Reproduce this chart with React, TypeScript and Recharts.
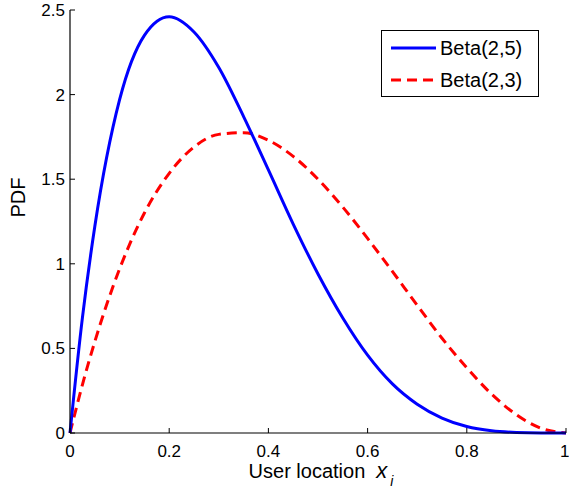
import { Line, LineChart, XAxis, YAxis } from 'recharts'

// x positions along the user location axis
const xs = [
  0, 0.025, 0.05, 0.1, 0.15, 0.2, 0.25, 0.3, 0.35, 0.4, 0.45, 0.5, 0.55, 0.6,
  0.65, 0.7, 0.75, 0.8, 0.85, 0.9, 0.95, 1,
]

// PDF values
const beta25 = [
  0, 0.68, 1.22, 1.97, 2.35, 2.46, 2.37, 2.16, 1.87, 1.555, 1.235, 0.94, 0.68,
  0.46, 0.29, 0.17, 0.088, 0.038, 0.013, 0.003, 0.0002, 0,
]
const beta23 = [
  0, 0.285, 0.54, 0.97, 1.3, 1.535, 1.69, 1.765, 1.775, 1.73, 1.635, 1.5, 1.335,
  1.15, 0.955, 0.755, 0.56, 0.385, 0.23, 0.108, 0.028, 0,
]

const xTicks = [0, 0.2, 0.4, 0.6, 0.8, 1]
const yTicks = [0, 0.5, 1, 1.5, 2, 2.5]

const FONT = '"Liberation Sans", Arial, Helvetica, sans-serif'
const BLUE = '#0000ff'
const RED = '#ff0000'

const data = xs.map((x, i) => ({ x, b25: beta25[i], b23: beta23[i] }))

const tickStyle = { fill: '#000', fontSize: 17, fontFamily: FONT }

function ChartLegend() {
  return (
    <div
      style={{
        position: 'absolute',
        left: 381,
        top: 30,
        width: 158,
        height: 67,
        border: '1px solid #000',
        background: '#fff',
        boxSizing: 'border-box',
      }}
    >
      <svg width={158} height={67} style={{ display: 'block' }}>
        <line x1={9} x2={54} y1={17} y2={17} stroke={BLUE} strokeWidth={3} />
        <text x={58} y={17} dy="0.36em" fontSize={20} fontFamily={FONT} fill="#000">
          Beta(2,5)
        </text>
        <line
          x1={9}
          x2={54}
          y1={49}
          y2={49}
          stroke={RED}
          strokeWidth={3}
          strokeDasharray="10 6"
        />
        <text x={58} y={49} dy="0.36em" fontSize={20} fontFamily={FONT} fill="#000">
          Beta(2,3)
        </text>
      </svg>
    </div>
  )
}

export default function App() {
  return (
    <div
      style={{
        position: 'absolute',
        left: 0,
        top: 0,
        width: 569,
        height: 499,
        background: '#fff',
      }}
    >
      <LineChart
        width={569}
        height={499}
        data={data}
        margin={{ top: 10, right: 3, bottom: 0, left: 0 }}
      >
        <XAxis
          xAxisId="bottom"
          dataKey="x"
          type="number"
          domain={[0, 1]}
          ticks={xTicks}
          height={66}
          tickSize={-5}
          tickMargin={17}
          tick={tickStyle}
          axisLine={{ stroke: '#000', strokeWidth: 1.2 }}
          tickLine={{ stroke: '#000' }}
          label={{
            content: () => (
              <text
                x={321}
                y={478}
                textAnchor="middle"
                fontFamily={FONT}
                fontSize={20}
                fill="#000"
              >
                User location
                <tspan fontStyle="italic" fontSize={22} dx={11}>
                  x
                </tspan>
                <tspan fontStyle="italic" fontSize={14} dx={3} dy={8}>
                  i
                </tspan>
              </text>
            ),
          }}
        />
        <XAxis
          xAxisId="top"
          dataKey="x"
          type="number"
          orientation="top"
          domain={[0, 1]}
          ticks={xTicks}
          height={0}
          tickSize={-5}
          tickFormatter={() => ''}
          axisLine={{ stroke: '#000', strokeWidth: 1.2 }}
          tickLine={{ stroke: '#000' }}
        />
        <YAxis
          yAxisId="left"
          type="number"
          domain={[0, 2.5]}
          ticks={yTicks}
          width={70}
          tickSize={-5}
          tickMargin={10}
          tick={tickStyle}
          axisLine={{ stroke: '#000', strokeWidth: 1.2 }}
          tickLine={{ stroke: '#000' }}
          label={{
            value: 'PDF',
            angle: -90,
            position: 'insideLeft',
            offset: 0,
            style: { fontFamily: FONT, fontSize: 20, fill: '#000' },
            dx: 18,
            dy: -4,
          }}
        />
        <YAxis
          yAxisId="right"
          orientation="right"
          type="number"
          domain={[0, 2.5]}
          ticks={yTicks}
          width={0}
          tickSize={-5}
          tickFormatter={() => ''}
          axisLine={{ stroke: '#000', strokeWidth: 1.2 }}
          tickLine={{ stroke: '#000' }}
        />
        <Line
          xAxisId="bottom"
          yAxisId="left"
          type="monotone"
          dataKey="b23"
          stroke={RED}
          strokeWidth={3}
          strokeDasharray="10 6"
          dot={false}
          isAnimationActive={false}
        />
        <Line
          xAxisId="bottom"
          yAxisId="left"
          type="monotone"
          dataKey="b25"
          stroke={BLUE}
          strokeWidth={3}
          dot={false}
          isAnimationActive={false}
        />
      </LineChart>
      <ChartLegend />
    </div>
  )
}
